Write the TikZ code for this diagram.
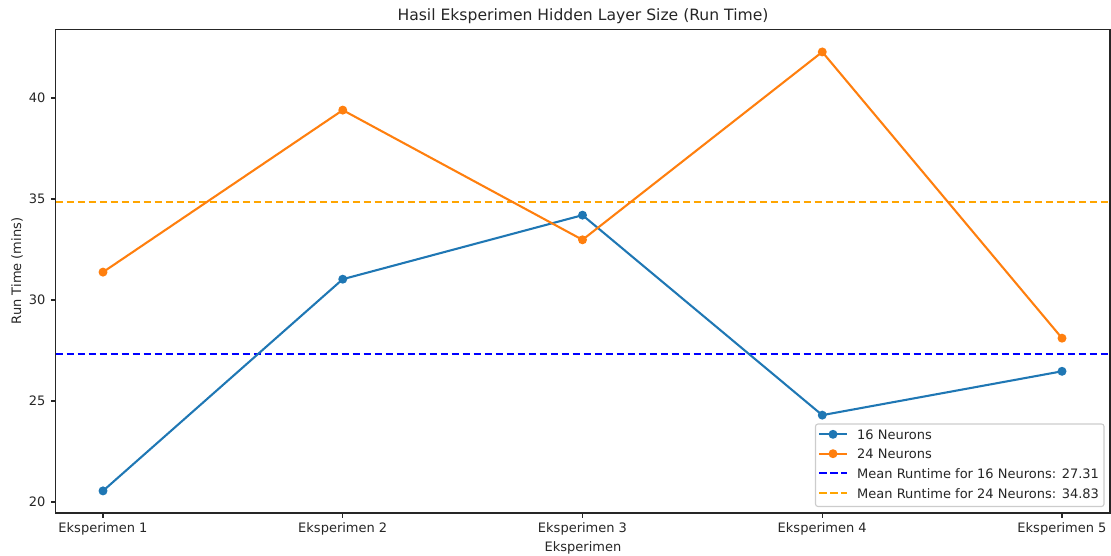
\documentclass[tikz,border=0pt]{standalone}
\usepackage{fontspec}
\setmainfont{DejaVu Sans}
\definecolor{tabblue}{HTML}{1F77B4}
\definecolor{taborange}{HTML}{FF7F0E}
\definecolor{meanblue}{HTML}{0000FF}
\definecolor{meanorange}{HTML}{FFA500}
\definecolor{spine}{HTML}{262626}
\tikzset{
  lbl/.style={inner sep=0pt, font=\fontsize{13}{15}\selectfont, text=black!85},
  series/.style={line width=2.08pt, line join=round},
  marker/.style={circle, fill=#1, draw=none, minimum size=9pt, inner sep=0pt},
  meanline/.style={line width=2.08pt, dash pattern=on 7.7pt off 3.3pt},
  axisline/.style={line width=1.1pt, draw=spine},
}
\begin{document}
\begin{tikzpicture}[x=1pt, y=-1pt]
\useasboundingbox (0,0) rectangle (1111,556);
% axes frame corners (pixel units)
\coordinate (tl) at (55.5,29.5);
\coordinate (br) at (1110,513);
\coordinate (xlab) at (0,532);
% data scope: x = experiment index, y = run time in minutes
\begin{scope}[shift={(-136.75,906)}, x=239.75pt, y=20.2pt]
  \foreach \i in {1,...,5} {
    \draw[axisline] (\i,19.455) coordinate (xt\i) -- ++(0,-4.9pt);
  }
  \foreach \v in {20,25,30,35,40} {
    \coordinate (yt\v) at (0.8,\v);
  }
  % means
  \coordinate (mb) at (0.8,27.31);
  \coordinate (mo) at (0.8,34.83);
  % 16 neurons
  \coordinate (a1) at (1,20.55);
  \coordinate (a2) at (2,31.03);
  \coordinate (a3) at (3,34.20);
  \coordinate (a4) at (4,24.30);
  \coordinate (a5) at (5,26.47);
  % 24 neurons
  \coordinate (b1) at (1,31.38);
  \coordinate (b2) at (2,39.40);
  \coordinate (b3) at (3,32.98);
  \coordinate (b4) at (4,42.28);
  \coordinate (b5) at (5,28.11);
\end{scope}
% y ticks and labels
\foreach \v in {20,25,30,35,40} {
  \draw[axisline] (tl |- yt\v) -- ++(-4.9,0);
  \node[lbl, anchor=east] at ([xshift=-10pt]tl |- yt\v) {\v};
}
% x tick labels
\foreach \i in {1,...,5} {
  \node[lbl, anchor=base] at (xt\i |- xlab) {Eksperimen \i};
}
% mean lines
\draw[meanline, meanblue] (tl |- mb) -- (br |- mb);
\draw[meanline, meanorange] (tl |- mo) -- (br |- mo);
% series
\draw[series, tabblue] (a1) -- (a2) -- (a3) -- (a4) -- (a5);
\draw[series, taborange] (b1) -- (b2) -- (b3) -- (b4) -- (b5);
\foreach \i in {1,...,5} {
  \node[marker=tabblue] (ma\i) at (a\i) {};
  \node[marker=taborange] (mo\i) at (b\i) {};
}
% frame
\draw[axisline] (tl) rectangle (br);
% titles
\node[lbl, anchor=base, font=\fontsize{15.6}{18}\selectfont] (title) at (583,21) {Hasil Eksperimen Hidden Layer Size (Run Time)};
\node[lbl, anchor=base] (xlabel) at (583,551) {Eksperimen};
\node[lbl, anchor=base, rotate=90] (ylabel) at (21,271) {Run Time (mins)};
% legend
\draw[line width=1.1pt, draw=black!20, fill=white, fill opacity=0.8, rounded corners=2.5pt] (815.5,424) rectangle (1104,506.5);
\coordinate (l1) at (819,434.3);
\coordinate (l2) at (819,453.7);
\coordinate (l3) at (819,473.3);
\coordinate (l4) at (819,493.3);
\draw[series, tabblue] (l1) -- ++(28,0);
\node[marker=tabblue] at ([xshift=14pt]l1) {};
\draw[series, taborange] (l2) -- ++(28,0);
\node[marker=taborange] at ([xshift=14pt]l2) {};
\draw[meanline, meanblue] (l3) -- ++(28,0);
\draw[meanline, meanorange] (l4) -- ++(28,0);
\node[lbl, anchor=west] at ([xshift=38pt]l1) {16 Neurons};
\node[lbl, anchor=west] at ([xshift=38pt]l2) {24 Neurons};
\node[lbl, anchor=west] at ([xshift=38pt]l3) {Mean Runtime for 16 Neurons: 27.31};
\node[lbl, anchor=west] at ([xshift=38pt]l4) {Mean Runtime for 24 Neurons: 34.83};
\end{tikzpicture}
\end{document}
